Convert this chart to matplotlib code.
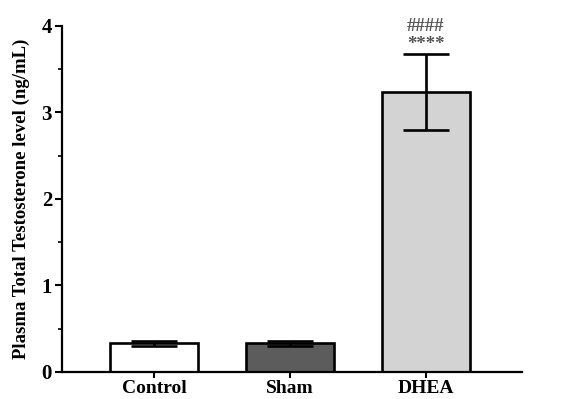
import matplotlib
matplotlib.use("Agg")
import matplotlib.pyplot as plt
from matplotlib.ticker import MultipleLocator

groups = ["Control", "Sham", "DHEA"]
means = [0.33, 0.33, 3.24]
errors = [0.03, 0.03, 0.44]
colors = ["#ffffff", "#5c5c5c", "#d3d3d3"]
ann_upper = "####"
ann_lower = "****"

plt.rcParams['font.family'] = ['Liberation Serif', 'DejaVu Serif']
plt.rcParams['font.weight'] = 'bold'

fig = plt.figure(figsize=(5.67, 3.99), dpi=100)
ax = fig.add_axes([0.109, 0.068, 0.812, 0.867])
x = list(range(len(groups)))
ax.bar(x, means, width=0.65, color=colors, edgecolor="black", linewidth=1.9, zorder=2)
ax.errorbar(x, means, yerr=errors, fmt="none", ecolor="black", elinewidth=1.9,
            capsize=16.5, capthick=1.9, zorder=3)
ax.text(2, means[2] + errors[2] + 0.01, ann_lower, ha="center", va="bottom",
        fontsize=13.5, color="#555555")
ax.text(2, means[2] + errors[2] + 0.22, ann_upper, ha="center", va="bottom",
        fontsize=13.5, color="#555555")

ax.set_xlim(-0.68, 2.71)
ax.set_ylim(0, 4)
ax.yaxis.set_major_locator(MultipleLocator(1))
ax.yaxis.set_minor_locator(MultipleLocator(0.5))
ax.set_xticks(x)
ax.set_xticklabels(groups, fontsize=14, fontweight="bold")
for lab in ax.get_yticklabels():
    lab.set_fontsize(15)
    lab.set_fontweight("bold")
ax.set_ylabel("Plasma Total Testosterone level (ng/mL)", fontsize=13.5, fontweight="bold", labelpad=8)
for s in ["top", "right"]:
    ax.spines[s].set_visible(False)
for s in ["left", "bottom"]:
    ax.spines[s].set_linewidth(1.6)
ax.tick_params(axis="both", which="major", width=1.5, length=5, pad=2)
ax.tick_params(axis="y", which="minor", width=1.2, length=3)
ax.tick_params(axis="x", length=4)
fig.savefig("out.png", dpi=100)
